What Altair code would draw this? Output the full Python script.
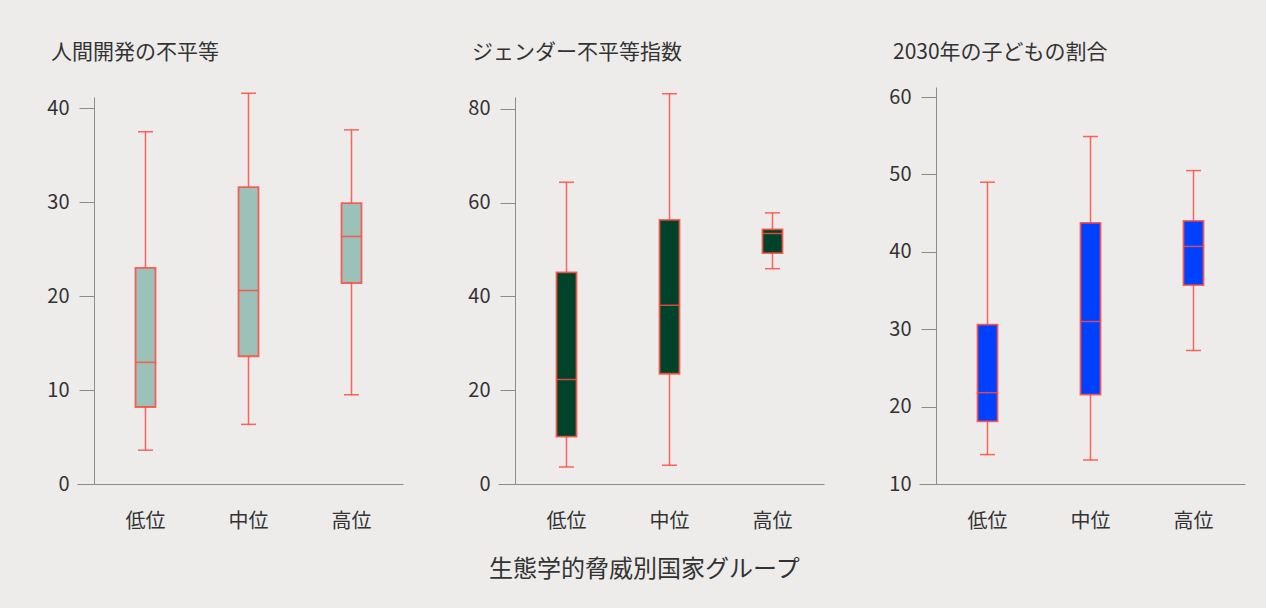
import altair as alt
import pandas as pd

# Country groups by ecological threat
groups = ["低位", "中位", "高位"]

# Inequality in human development
hdi_min = [3.6, 6.35, 9.5]
hdi_q1 = [8.2, 13.6, 21.4]
hdi_med = [12.95, 20.6, 26.35]
hdi_q3 = [23.0, 31.6, 29.9]
hdi_max = [37.5, 41.6, 37.7]

# Gender inequality index
gii_min = [3.6, 4.0, 45.9]
gii_q1 = [10.1, 23.5, 49.2]
gii_med = [22.3, 38.1, 53.4]
gii_q3 = [45.1, 56.3, 54.3]
gii_max = [64.3, 83.2, 57.8]

# Share of children in 2030
chi_min = [13.8, 13.1, 27.25]
chi_q1 = [18.1, 21.55, 35.7]
chi_med = [21.8, 31.0, 40.7]
chi_q3 = [30.6, 43.75, 44.0]
chi_max = [49.0, 54.9, 50.5]

FONT = "Noto Sans CJK JP"
TEXT = "#333333"
AXIS = "#8c8c8c"
RED = "#ff4b3e"
PANEL_W = 326
PANEL_H = 397


def box_panel(title, lo, q1, med, q3, hi, fill, domain, ticks, y_range=None):
    df = pd.DataFrame({"group": groups, "lo": lo, "q1": q1, "med": med, "q3": q3, "hi": hi})
    x = alt.X(
        "group:N",
        sort=groups,
        scale=alt.Scale(paddingInner=0, paddingOuter=0.0825, align=1),
        axis=alt.Axis(
            title=None, labelAngle=0, ticks=False, labelPadding=27,
            labelFontSize=20, labelColor=TEXT, labelFont=FONT,
            domainColor=AXIS, domainWidth=1,
        ),
    )
    if y_range is None:
        yscale = alt.Scale(domain=domain, nice=False, zero=False)
    else:
        yscale = alt.Scale(domain=domain, nice=False, zero=False, range=y_range)
    yaxis = alt.Axis(
        title=None, values=ticks, grid=False, offset=-17, tickSize=15,
        tickColor=AXIS, domainColor=AXIS, labelPadding=10,
        labelFontSize=20, labelColor=TEXT, labelFont=FONT,
    )
    base = alt.Chart(df).encode(x=x)
    whisker = base.mark_rule(color=RED, strokeWidth=1.5, opacity=0.85).encode(
        y=alt.Y("lo:Q", scale=yscale, axis=yaxis), y2="hi:Q"
    )
    cap_lo = base.mark_tick(color=RED, size=15, thickness=1.5, opacity=0.85).encode(y="lo:Q")
    cap_hi = base.mark_tick(color=RED, size=15, thickness=1.5, opacity=0.85).encode(y="hi:Q")
    box = base.mark_bar(size=20, fill=fill, stroke=RED, strokeWidth=1.8, strokeOpacity=0.85).encode(
        y="q1:Q", y2="q3:Q"
    )
    median = base.mark_tick(color=RED, size=20, thickness=1.5, opacity=0.85).encode(y="med:Q")
    return alt.layer(whisker, cap_lo, cap_hi, box, median).properties(
        width=PANEL_W,
        height=PANEL_H,
        title=alt.TitleParams(
            title, anchor="start", frame="group", dx=-26, fontSize=21, font=FONT,
            color=TEXT, fontWeight="normal", offset=24.5,
        ),
    )


p1 = box_panel("人間開発の不平等", hdi_min, hdi_q1, hdi_med, hdi_q3, hdi_max,
               "#9bc1b9", [0, 41.2], [0, 10, 20, 30, 40], [PANEL_H, 10])
p2 = box_panel("ジェンダー不平等指数", gii_min, gii_q1, gii_med, gii_q3, gii_max,
               "#00432a", [0, 82.5], [0, 20, 40, 60, 80], [PANEL_H, 10])
p3 = box_panel("2030年の子どもの割合", chi_min, chi_q1, chi_med, chi_q3, chi_max,
               "#0040ff", [10, 61.3], [10, 20, 30, 40, 50, 60])

chart = (
    alt.hconcat(p1, p2, p3, spacing=64)
    .properties(
        title=alt.TitleParams(
            "生態学的脅威別国家グループ", orient="bottom", anchor="middle",
            dx=-1.5, fontSize=24, font=FONT, color=TEXT, fontWeight="normal", offset=27,
        ),
        padding={"left": 46, "top": 41, "right": 21, "bottom": 26},
        background="#edeceb",
    )
    .configure_view(stroke=None)
)

chart.save("out.html", embed_options={"renderer": "svg", "actions": False})
